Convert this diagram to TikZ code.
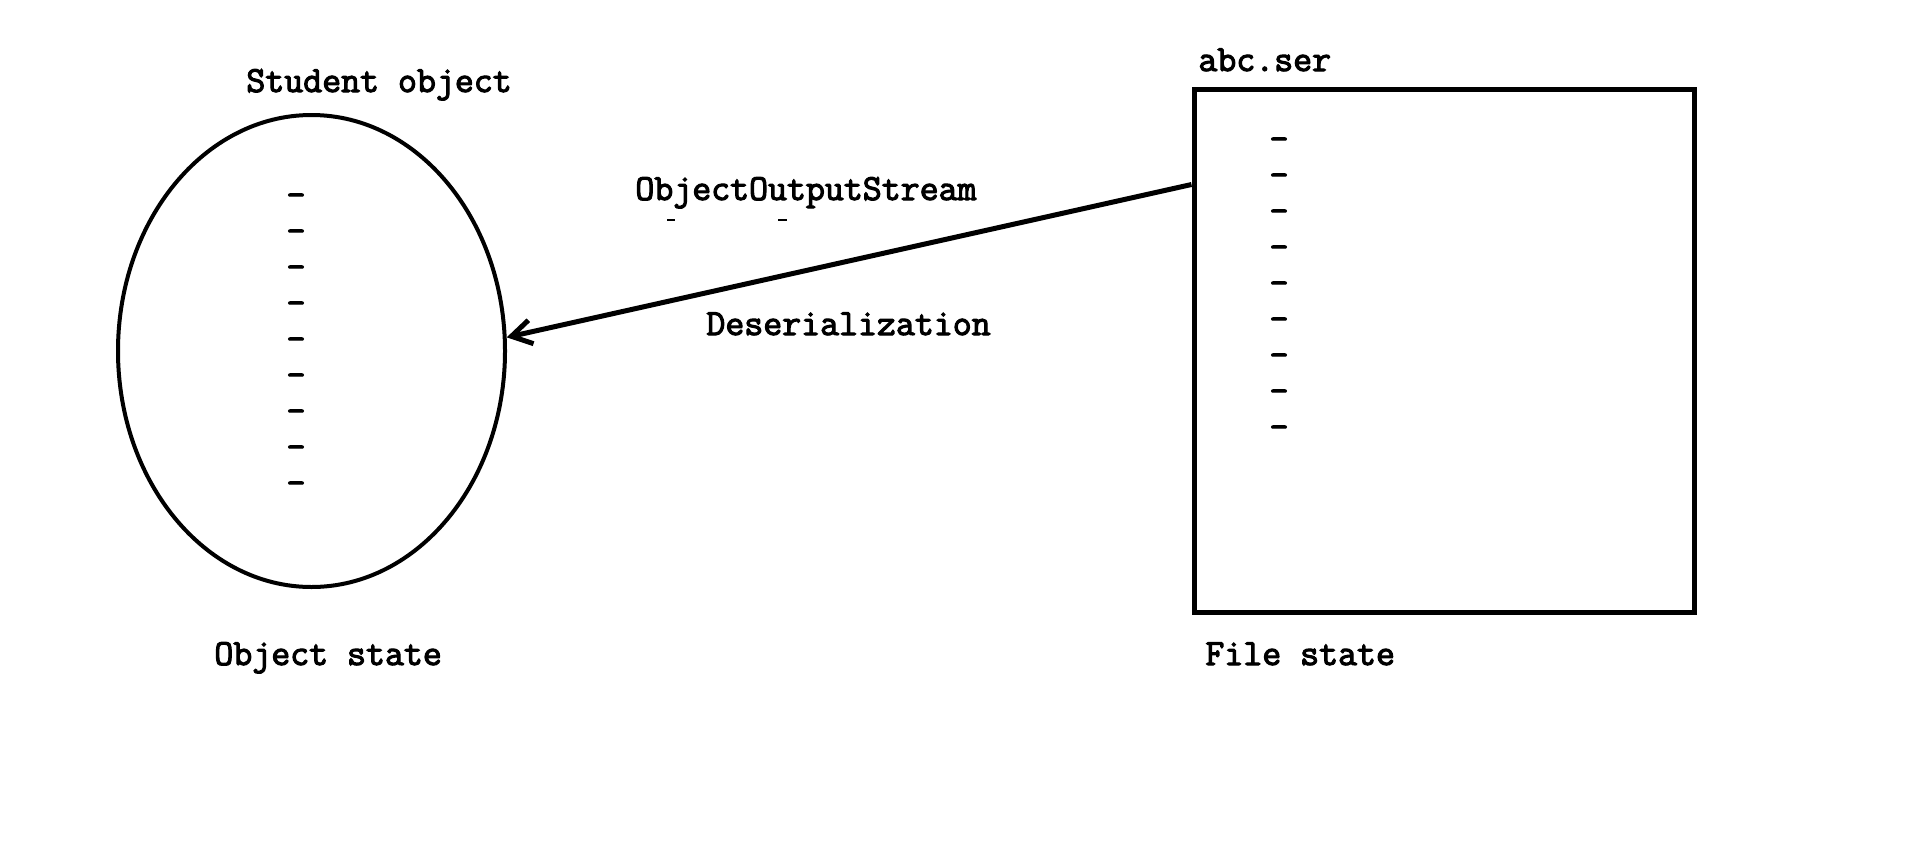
\documentclass[tikz,border=0pt]{standalone}
\usepackage{fontspec}
\newfontfamily\codefont{Latin Modern Mono}[FakeBold=3]
\usetikzlibrary{shapes.geometric, arrows.meta}

\begin{document}
\begin{tikzpicture}[x=0.5pt, y=-0.5pt, >={Straight Barb[length=10pt, width=12pt]},
  lbl/.style={anchor=base west, inner sep=0pt, font=\fontsize{18.4}{21}\selectfont\codefont},
  itemdash/.style={inner sep=0pt, font=\fontsize{18.4}{21}\selectfont\codefont}]
  \useasboundingbox (0,0) rectangle (1914,867);
  % object side
  \node [draw, ellipse, line width=2pt, minimum width=193.5pt, minimum height=236pt, inner sep=0pt] (stud) at (311.5,351) {};
  \node [lbl] (studname) at (246,92) {Student object};
  \node [lbl] (objstate) at (214,665) {Object state};
  \node [itemdash] (o1) at (296,200) {-};
  \node [itemdash] (o2) at (296,236) {-};
  \node [itemdash] (o3) at (296,272) {-};
  \node [itemdash] (o4) at (296,308) {-};
  \node [itemdash] (o5) at (296,344) {-};
  \node [itemdash] (o6) at (296,380) {-};
  \node [itemdash] (o7) at (296,416) {-};
  \node [itemdash] (o8) at (296,452) {-};
  \node [itemdash] (o9) at (296,488) {-};
  % file side
  \node [draw, rectangle, line width=2.5pt, minimum width=250pt, minimum height=261.5pt, inner sep=0pt] (file) at (1444,350.5) {};
  \node [lbl] (filename) at (1198,71) {abc.ser};
  \node [lbl] (filestate) at (1205,665) {File state};
  \node [itemdash] (f1) at (1279,144) {-};
  \node [itemdash] (f2) at (1279,180) {-};
  \node [itemdash] (f3) at (1279,216) {-};
  \node [itemdash] (f4) at (1279,252) {-};
  \node [itemdash] (f5) at (1279,288) {-};
  \node [itemdash] (f6) at (1279,324) {-};
  \node [itemdash] (f7) at (1279,360) {-};
  \node [itemdash] (f8) at (1279,396) {-};
  \node [itemdash] (f9) at (1279,432) {-};
  % stream
  \coordinate (fileport) at ([yshift=-49pt]file.north west);
  \draw [line width=2.5pt, ->] (fileport) -- (stud.4.5);
  \node [lbl] (streamname) at (635,200) {ObjectOutputStream};
  \node [lbl] (direction) at (706,335) {Deserialization};
  \draw [line width=1pt] (667,220) -- (675,220);
  \draw [line width=1pt] (778,220) -- (787,220);
\end{tikzpicture}
\end{document}
